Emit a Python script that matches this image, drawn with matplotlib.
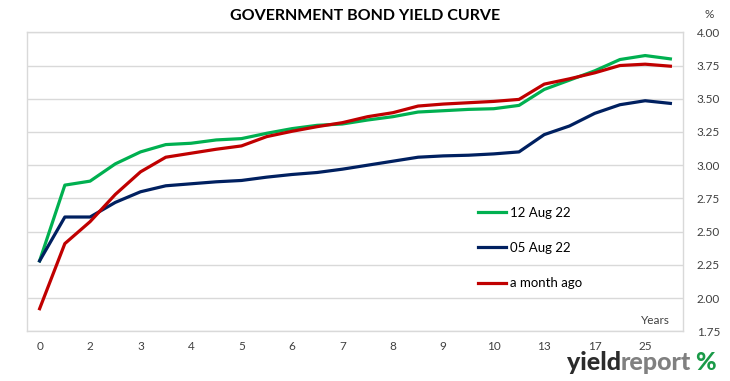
import matplotlib.pyplot as plt
import numpy as np

# maturities on the category axis (only every other one is labelled)
maturities = ["0", "1", "2", "2.5", "3", "3.5", "4", "4.5", "5", "5.5", "6", "6.5", "7",
              "7.5", "8", "8.5", "9", "9.5", "10", "11", "13", "15", "17", "20", "25", "30"]
tick_labels = ["0", "2", "3", "4", "5", "6", "7", "8", "9", "10", "13", "17", "25"]

yield_12aug = [2.28, 2.85, 2.88, 3.01, 3.10, 3.155, 3.165, 3.19, 3.20, 3.24, 3.275, 3.30, 3.31,
               3.34, 3.365, 3.40, 3.41, 3.42, 3.425, 3.45, 3.57, 3.64, 3.71, 3.795, 3.825, 3.80]
yield_05aug = [2.28, 2.61, 2.61, 2.72, 2.80, 2.845, 2.86, 2.875, 2.885, 2.91, 2.93, 2.945, 2.97,
               3.00, 3.03, 3.06, 3.07, 3.075, 3.085, 3.10, 3.23, 3.295, 3.39, 3.455, 3.485, 3.465]
yield_month = [1.92, 2.41, 2.575, 2.78, 2.95, 3.06, 3.09, 3.12, 3.145, 3.215, 3.255, 3.29, 3.32,
               3.365, 3.395, 3.445, 3.46, 3.47, 3.48, 3.495, 3.61, 3.65, 3.695, 3.75, 3.76, 3.745]

series = [("12 Aug 22", yield_12aug, "#00b050"),
          ("05 Aug 22", yield_05aug, "#002060"),
          ("a month ago", yield_month, "#c00000")]

plt.rcParams["font.family"] = ["Lato", "DejaVu Sans"]

fig = plt.figure(figsize=(7.3, 3.81), dpi=100)
ax = fig.add_axes([27 / 730, 1 - 331.3 / 381, 656 / 730, 299 / 381])

x = np.arange(len(maturities))
for name, vals, col in series:
    ax.plot(x, vals, color=col, lw=2.3, label=name, solid_joinstyle="round")

ax.set_xlim(-0.5, len(maturities) - 0.5)
ax.set_ylim(1.75, 4.0)
ax.set_yticks(np.arange(1.75, 4.01, 0.25))
ax.yaxis.tick_right()
ax.set_yticklabels([f"{v:.2f}" for v in np.arange(1.75, 4.01, 0.25)])
ax.set_xticks(x[::2])
ax.set_xticklabels(tick_labels)
ax.tick_params(length=0, labelsize=8.5, labelcolor="#404040")
ax.tick_params(axis="y", pad=10)
ax.tick_params(axis="x", pad=7)
ax.grid(axis="y", color="#d9d9d9", lw=1)
for s in ax.spines.values():
    s.set_color("#d9d9d9")
    s.set_linewidth(1)

ax.legend(loc="upper left", bbox_to_anchor=(478 / 730, 1 - 207 / 381),
          bbox_transform=fig.transFigure, frameon=False, fontsize=9.5,
          handlelength=2.1, handletextpad=0.3, labelspacing=1.75, borderpad=0,
          borderaxespad=0)

fig.text(0.5, 1 - 16 / 381, "GOVERNMENT BOND YIELD CURVE", ha="center", va="center",
         fontsize=11.5, fontweight="bold", color="black")
fig.text(709 / 730, 1 - 14 / 381, "%", ha="center", va="center", fontsize=8.5, color="#404040")
fig.text(655 / 730, 1 - 320 / 381, "Years", ha="center", va="center", fontsize=8.5, color="#404040")

# logo: place the pieces one after the other
logo_y = 1 - 363 / 381
renderer = fig.canvas.get_renderer()
x0 = 567 / 730
for txt, col, gap in [("yield", "#2b2b2b", -1), ("report", "#808080", 5), ("%", "#1a9a48", 0)]:
    t = fig.text(x0, logo_y, txt, ha="left", va="center", fontsize=18,
                 fontweight="black", color=col)
    bb = t.get_window_extent(renderer)
    x0 = (bb.x1 + gap) / 730

fig.savefig("out.png", dpi=100)
